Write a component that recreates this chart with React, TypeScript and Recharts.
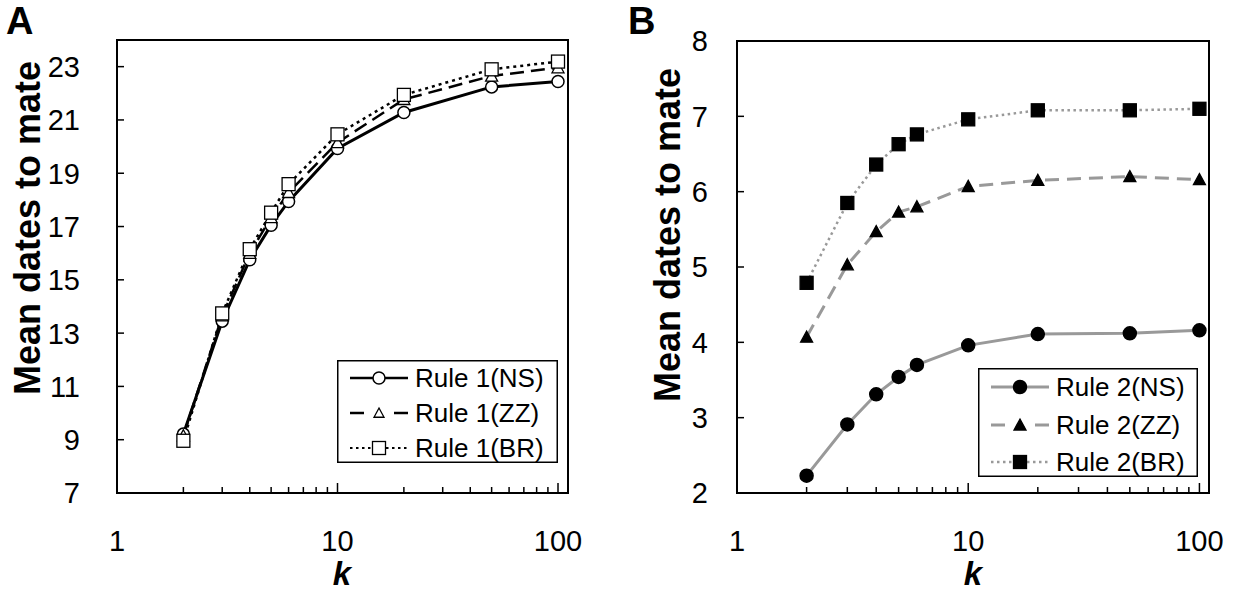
import React from 'react';
import { LineChart, Line, XAxis, YAxis, ReferenceArea, Legend } from 'recharts';

const K_VALUES = [2, 3, 4, 5, 6, 10, 20, 50, 100];

const RULE1_NS = [9.21, 13.45, 15.75, 17.05, 17.94, 19.93, 21.28, 22.24, 22.44];
const RULE1_ZZ = [9.15, 13.65, 16.0, 17.34, 18.28, 20.15, 21.77, 22.65, 22.96];
const RULE1_BR = [8.96, 13.74, 16.15, 17.52, 18.59, 20.46, 21.94, 22.9, 23.19];

const RULE2_NS = [2.23, 2.91, 3.31, 3.54, 3.7, 3.96, 4.11, 4.12, 4.16];
const RULE2_ZZ = [4.07, 5.03, 5.47, 5.73, 5.8, 6.07, 6.15, 6.2, 6.16];
const RULE2_BR = [4.79, 5.85, 6.36, 6.63, 6.76, 6.96, 7.08, 7.08, 7.1];

const X_TICKS = [1, 2, 3, 4, 5, 6, 7, 8, 9, 10, 20, 30, 40, 50, 60, 70, 80, 90, 100];
const X_LABELS = [1, 10, 100];
const Y_TICKS_A = [7, 9, 11, 13, 15, 17, 19, 21, 23];
const Y_TICKS_B = [2, 3, 4, 5, 6, 7, 8];

const LEGEND_A = ['Rule 1(NS)', 'Rule 1(ZZ)', 'Rule 1(BR)'];
const LEGEND_B = ['Rule 2(NS)', 'Rule 2(ZZ)', 'Rule 2(BR)'];

const FONT = '"Liberation Sans", Arial, sans-serif';
const GRAY = '#999999';

const dataA = K_VALUES.map((k, i) => ({ k, ns: RULE1_NS[i], zz: RULE1_ZZ[i], br: RULE1_BR[i] }));
const dataB = K_VALUES.map((k, i) => ({ k, ns: RULE2_NS[i], zz: RULE2_ZZ[i], br: RULE2_BR[i] }));

// marker shapes
const Circle = ({ cx, cy, filled }: any) => (
    <circle cx={cx} cy={cy} r={filled ? 6.5 : 6} fill={filled ? '#000' : '#fff'} stroke="#000" strokeWidth={1.5} />
);
const Triangle = ({ cx, cy, filled, s = 6 }: any) => (
    <polygon
        points={`${cx},${cy - s} ${cx + s},${cy + s * 0.85} ${cx - s},${cy + s * 0.85}`}
        fill={filled ? '#000' : '#fff'}
        stroke="#000"
        strokeWidth={1.3}
    />
);
const Square = ({ cx, cy, filled }: any) => (
    <rect x={cx - 6.5} y={cy - 6.5} width={13} height={13} fill={filled ? '#000' : '#fff'} stroke="#000" strokeWidth={1.3} />
);

const dotFn = (Shape: any, filled: boolean) => (props: any) => (
    <Shape key={`dot-${props.index}`} cx={props.cx} cy={props.cy} filled={filled} />
);

const XTick = ({ x, y, payload }: any) => {
    const v = payload.value;
    const major = X_LABELS.includes(v);
    return (
        <g>
            <line x1={x} x2={x} y1={y} y2={y - (major ? 10 : 6)} stroke="#000" strokeWidth={1.5} />
            {major && (
                <text x={x} y={y + 48} dy="0.36em" textAnchor="middle" fontSize={29} fontFamily={FONT} fill="#000">
                    {v}
                </text>
            )}
        </g>
    );
};

const yTick = (gap: number) => ({ x, y, payload }: any) => (
    <g>
        <line x1={x} x2={x + 7} y1={y} y2={y} stroke="#000" strokeWidth={1.5} />
        <text x={x - gap} y={y} dy="0.36em" textAnchor="end" fontSize={29} fontFamily={FONT} fill="#000">
            {payload.value}
        </text>
    </g>
);

const legendContent = (labels: string[], color: string, filled: boolean, w: number, h: number, rows: number[]) => () => {
    const shapes = [Circle, Triangle, Square];
    return (
        <svg width={w} height={h} style={{ display: 'block' }}>
            <rect x={0.75} y={0.75} width={w - 1.5} height={h - 1.5} fill="#fff" stroke="#000" strokeWidth={1.5} />
            {labels.map((label, i) => {
                const cy = rows[i];
                const Shape = shapes[i];
                const sw = filled ? 3 : 2.5;
                return (
                    <g key={label}>
                        {i === 0 && <line x1={13} x2={71} y1={cy} y2={cy} stroke={color} strokeWidth={sw} />}
                        {i === 1 && (
                            <g>
                                <line x1={13} x2={27} y1={cy} y2={cy} stroke={color} strokeWidth={sw} />
                                <line x1={57} x2={71} y1={cy} y2={cy} stroke={color} strokeWidth={sw} />
                            </g>
                        )}
                        {i === 2 && (
                            <line x1={13} x2={71} y1={cy} y2={cy} stroke={color} strokeWidth={sw - 0.5} strokeDasharray="2.5 3.5" />
                        )}
                        {i === 1 ? (
                            <Triangle cx={42} cy={cy} filled={filled} s={filled ? 6 : 5} />
                        ) : (
                            <Shape cx={42} cy={cy} filled={filled} />
                        )}
                        <text x={78} y={cy} dy="0.36em" fontSize={26} fontFamily={FONT} fill="#000">
                            {label}
                        </text>
                    </g>
                );
            })}
        </svg>
    );
};

const textLabel = (content: string, x: number, y: number, size: number, opts: any = {}) => () => (
    <text
        x={x}
        y={y}
        dy="0.36em"
        textAnchor="middle"
        fontSize={size}
        fontWeight="bold"
        fontFamily={FONT}
        fill="#000"
        transform={opts.rotate ? `rotate(-90 ${x} ${y})` : undefined}
        fontStyle={opts.italic ? 'italic' : 'normal'}
    >
        {content}
    </text>
);

const PanelA = () => (
    <LineChart width={620} height={593} data={dataA} margin={{ top: 40, right: 52, bottom: 70, left: 57 }}>
        <XAxis
            dataKey="k"
            type="number"
            scale="log"
            domain={[1, 111]}
            allowDataOverflow
            ticks={X_TICKS}
            interval={0}
            height={30}
            tickSize={0}
            tickMargin={0}
            tickLine={false}
            axisLine={false}
            tick={<XTick />}
            label={textLabel('k', 342, 573, 33, { italic: true })}
        />
        <YAxis
            type="number"
            domain={[7, 24]}
            allowDataOverflow
            ticks={Y_TICKS_A}
            interval={0}
            width={60}
            tickSize={0}
            tickMargin={0}
            tickLine={false}
            axisLine={false}
            tick={yTick(37)}
            label={textLabel('Mean dates to mate', 27, 228, 36, { rotate: true })}
        />
        <ReferenceArea x1={1} x2={111} y1={7} y2={24} fill="none" stroke="#000" strokeWidth={2} ifOverflow="visible" />
        <Line dataKey="ns" stroke="#000" strokeWidth={3} dot={dotFn(Circle, false)} isAnimationActive={false} />
        <Line dataKey="zz" stroke="#000" strokeWidth={2.5} strokeDasharray="14 7" dot={dotFn(Triangle, false)} isAnimationActive={false} />
        <Line dataKey="br" stroke="#000" strokeWidth={2.5} strokeDasharray="3 4" dot={dotFn(Square, false)} isAnimationActive={false} />
        <Legend
            layout="horizontal"
            verticalAlign="middle"
            align="center"
            wrapperStyle={{ left: 337, top: 360, width: 221, height: 103 }}
            content={legendContent(LEGEND_A, '#000', false, 221, 103, [18, 53, 88])}
        />
    </LineChart>
);

const PanelB = () => (
    <LineChart width={617} height={593} data={dataB} margin={{ top: 41, right: 28, bottom: 70, left: 57 }}>
        <XAxis
            dataKey="k"
            type="number"
            scale="log"
            domain={[1, 110]}
            allowDataOverflow
            ticks={X_TICKS}
            interval={0}
            height={30}
            tickSize={0}
            tickMargin={0}
            tickLine={false}
            axisLine={false}
            tick={<XTick />}
            label={textLabel('k', 353, 573, 33, { italic: true })}
        />
        <YAxis
            type="number"
            domain={[2, 8]}
            allowDataOverflow
            ticks={Y_TICKS_B}
            interval={0}
            width={60}
            tickSize={0}
            tickMargin={0}
            tickLine={false}
            axisLine={false}
            tick={yTick(29)}
            label={textLabel('Mean dates to mate', 47, 235, 36, { rotate: true })}
        />
        <ReferenceArea x1={1} x2={110} y1={2} y2={8} fill="none" stroke="#000" strokeWidth={2} ifOverflow="visible" />
        <Line dataKey="ns" stroke={GRAY} strokeWidth={3} dot={dotFn(Circle, true)} isAnimationActive={false} />
        <Line dataKey="zz" stroke={GRAY} strokeWidth={3} strokeDasharray="14 8" dot={dotFn(Triangle, true)} isAnimationActive={false} />
        <Line dataKey="br" stroke={GRAY} strokeWidth={2.5} strokeDasharray="2.5 3.5" dot={dotFn(Square, true)} isAnimationActive={false} />
        <Legend
            layout="horizontal"
            verticalAlign="middle"
            align="center"
            wrapperStyle={{ left: 358, top: 368, width: 220, height: 109 }}
            content={legendContent(LEGEND_B, GRAY, true, 220, 109, [19, 57, 94])}
        />
    </LineChart>
);

export default function App() {
    return (
        <div style={{ position: 'absolute', left: 0, top: 0, width: 1237, height: 593, background: '#fff', fontFamily: FONT }}>
            <div style={{ position: 'absolute', left: 0, top: 0 }}>
                <PanelA />
            </div>
            <div style={{ position: 'absolute', left: 620, top: 0 }}>
                <PanelB />
            </div>
            <svg width={1237} height={50} style={{ position: 'absolute', left: 0, top: 0, pointerEvents: 'none' }}>
                <text x={6} y={34} fontSize={38} fontWeight="bold" fontFamily={FONT} fill="#000">A</text>
                <text x={628} y={34} fontSize={38} fontWeight="bold" fontFamily={FONT} fill="#000">B</text>
            </svg>
        </div>
    );
}
